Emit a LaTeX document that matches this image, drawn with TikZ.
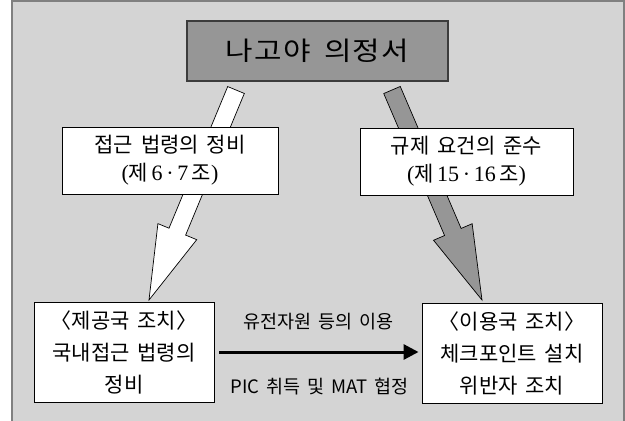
\documentclass[tikz,border=0pt]{standalone}
\usepackage{fontspec}
\newfontfamily\kr[WordSpace=1.7]{Noto Sans CJK KR}
\newfontfamily\ser{Liberation Serif}
\usetikzlibrary{calc,arrows.meta}
\definecolor{bg}{RGB}{212,212,212}
\definecolor{frameline}{RGB}{128,128,128}
\definecolor{titlefill}{RGB}{150,150,150}
\definecolor{titleline}{RGB}{60,60,60}
\newcommand\myblockarrow[3]{%
  \path ($(#3)!74pt!(#2)$) coordinate (hb);
  \draw[#1] (#3) -- ($(hb)!21pt!90:(#3)$) -- ($(hb)!9pt!90:(#3)$)
    -- ($(#2)!9pt!90:(#3)$) -- ($(#2)!9pt!-90:(#3)$)
    -- ($(hb)!9pt!-90:(#3)$) -- ($(hb)!21pt!-90:(#3)$) -- cycle;}
\newcommand\sernum[1]{{\ser\fontsize{22}{28}\selectfont #1}}
\newcommand\widegap{\hspace{7pt}}
\tikzset{
  titlebox/.style={draw=titleline, line width=2pt, fill=titlefill, inner sep=0pt,
    minimum width=261pt, minimum height=60pt,
    font={\kr\fontsize{26}{30}\selectfont\addfontfeature{LetterSpace=4}}},
  lawbox/.style={draw=black, line width=0.9pt, fill=white, inner sep=0pt,
    minimum height=67pt, align=center, font={\kr\fontsize{21}{28}\selectfont}},
  statebox/.style={draw=black, line width=0.9pt, fill=white, inner sep=0pt,
    minimum width=180pt, minimum height=100pt, align=center,
    font={\kr\fontsize{21}{32}\selectfont}},
  flowlabel/.style={inner sep=0pt, font={\kr\fontsize{18.5}{20}\selectfont}},
  whitearrow/.style={draw=black, line width=0.7pt, fill=white},
  grayarrow/.style={draw=black, line width=0.7pt, fill=titlefill},
  flow/.style={line width=3pt, -{Triangle[length=15pt,width=15pt]}}
}
\begin{document}
\begin{tikzpicture}[x=1pt,y=-1pt]
\useasboundingbox (0,0) rectangle (625,421);
\fill[bg] (12,1) rectangle (624,421);
\draw[frameline, line width=2pt] (12,421) -- (12,1) -- (624,1) -- (624,421);

\coordinate (wS) at (236,90);
\coordinate (wT) at (149,300);
\coordinate (gS) at (392,90);
\coordinate (gT) at (482,300);
\myblockarrow{whitearrow}{wS}{wT}
\myblockarrow{grayarrow}{gS}{gT}

\node[titlebox] (nagoya) at (317.5,51) {\scalebox{1.15}[1]{나고야 의정서}};

\node[lawbox, minimum width=216pt] (access) at (170,160.5)
  {접근 법령의 정비\\\sernum{(}제\,\sernum{6\,·\,7}\,조\sernum{)}};
\node[lawbox, minimum width=213pt] (comply) at (466.5,161.5)
  {규제 요건의 준수\\\sernum{(}제\,\sernum{15\,·\,16}\,조\sernum{)}};

\node[statebox] (provider) at (124,352)
  {〈제공국 조치〉\\국내접근 법령의\\정비};
\node[statebox] (user) at (512,353)
  {〈이용국 조치〉\\체크포인트 설치\\위반자 조치};

\draw[flow, shorten <=5pt, shorten >=3pt] (provider.east) -- (provider.east -| user.west);
\node[flowlabel] (use) at (318.5,322) {유전자원 등의 이용};
\node[flowlabel] (pic) at (319.5,387) {PIC\widegap 취득\widegap 및\widegap MAT\widegap 협정};
\end{tikzpicture}
\end{document}
